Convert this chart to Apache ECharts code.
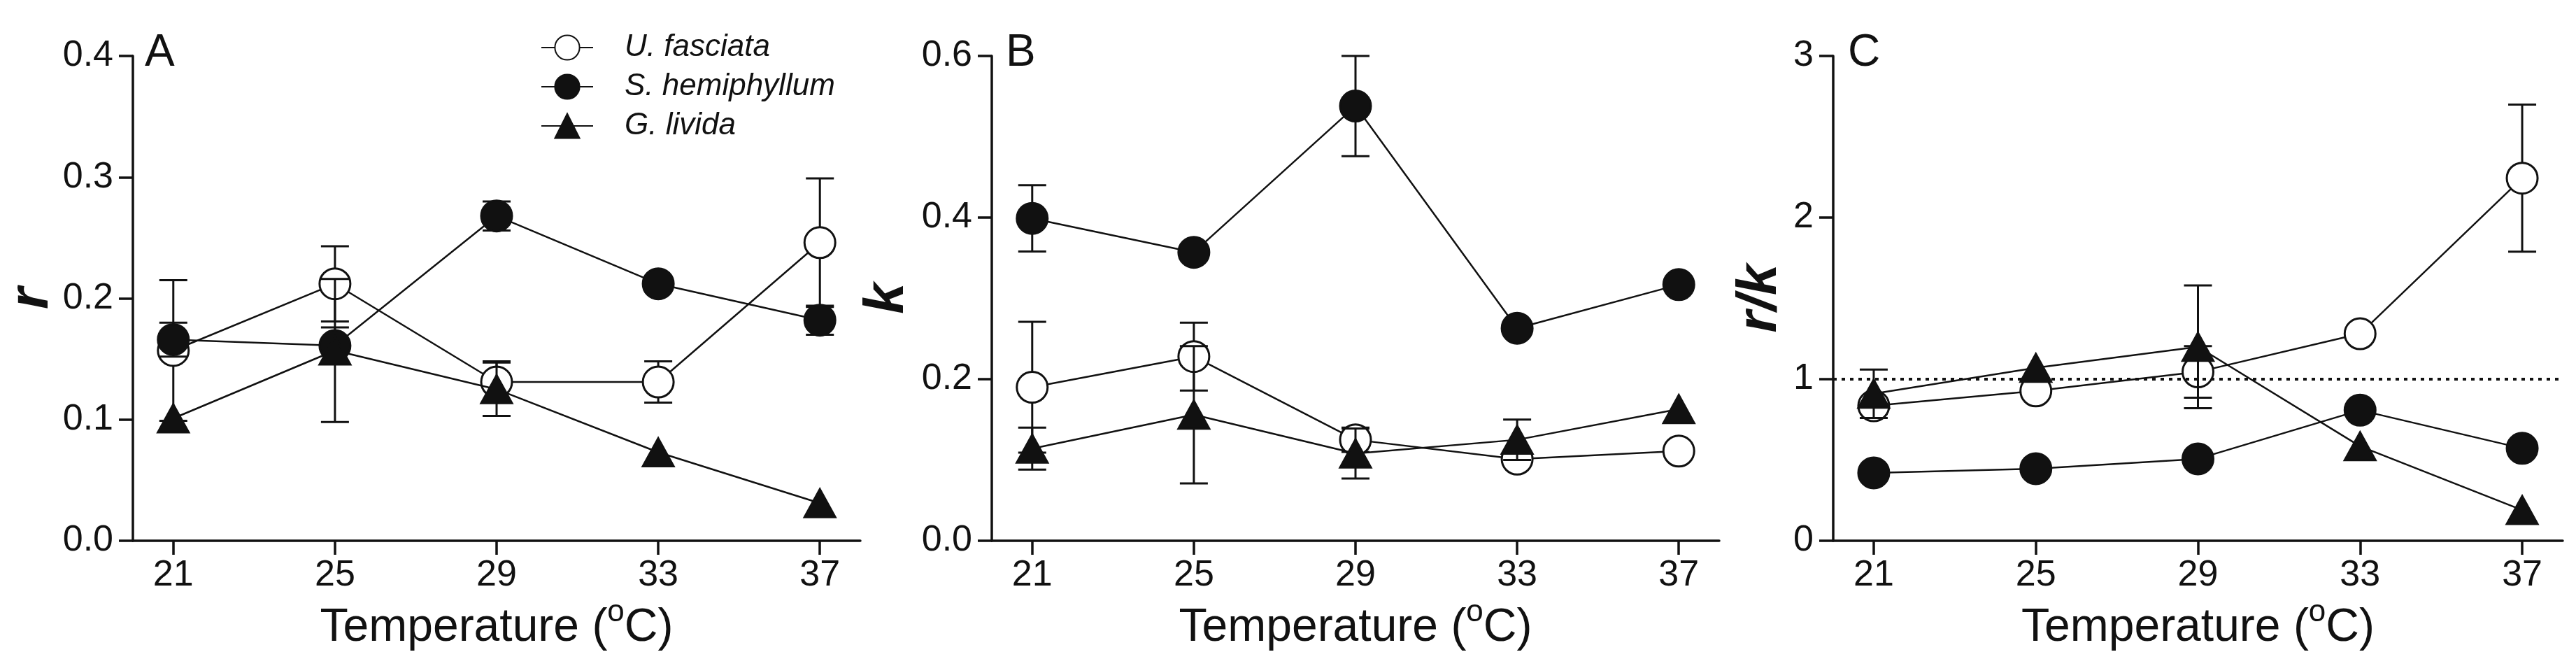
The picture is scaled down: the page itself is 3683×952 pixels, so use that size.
<!DOCTYPE html>
<html>
<head>
<meta charset="utf-8">
<script src="https://cdn.jsdelivr.net/npm/echarts@6/dist/echarts.min.js"></script>
<style>
  html, body { margin: 0; padding: 0; background: #fff; }
  #chart { width: 3683px; height: 952px; }
</style>
</head>
<body>
<div id="chart"></div>
<script>
// temperatures (x axis)
const temps = [21, 25, 29, 33, 37];

// panel A: r
const rFasciata = [0.157, 0.212, 0.131, 0.131, 0.246];
const rFasciataErr = [0.058, 0.031, 0.017, 0.017, 0.053];
const rHemiphyllum = [0.166, 0.161, 0.268, 0.212, 0.182];
const rHemiphyllumErr = [0.014, 0.015, 0.012, 0, 0.012];
const rLivida = [0.101, 0.157, 0.125, 0.073, 0.031];
const rLividaErr = [0, 0.059, 0.022, 0, 0];

// panel B: k
const kFasciata = [0.190, 0.228, 0.125, 0.101, 0.111];
const kFasciataErr = [0.081, 0.042, 0.015, 0, 0];
const kHemiphyllum = [0.399, 0.357, 0.538, 0.263, 0.317];
const kHemiphyllumErr = [0.041, 0, 0.062, 0, 0];
const kLivida = [0.114, 0.156, 0.108, 0.125, 0.163];
const kLividaErr = [0.026, 0.085, 0.031, 0.025, 0];

// panel C: r/k
const rkFasciata = [0.835, 0.927, 1.045, 1.281, 2.244];
const rkFasciataErr = [0.05, 0, 0.16, 0, 0.455];
const rkHemiphyllum = [0.42, 0.446, 0.507, 0.808, 0.572];
const rkHemiphyllumErr = [0, 0, 0, 0, 0];
const rkLivida = [0.91, 1.07, 1.2, 0.585, 0.19];
const rkLividaErr = [0.15, 0, 0.38, 0, 0];

const speciesNames = ['U. fasciata', 'S. hemiphyllum', 'G. livida'];
const FONT = '"Liberation Sans", Arial, sans-serif';
const INK = '#111';

// 物种的标记样式
const markers = [
    { symbol: 'circle', size: 44, fill: '#fff' },
    { symbol: 'circle', size: 44, fill: INK },
    { symbol: 'triangle', size: [44, 40], fill: INK }
];

const panels = [
    { letter: 'A', yName: 'r', left: 190, width: 1040, max: 0.4, step: 0.1, digits: 1, nameGap: 143,
      means: [rFasciata, rHemiphyllum, rLivida], errs: [rFasciataErr, rHemiphyllumErr, rLividaErr] },
    { letter: 'B', yName: 'k', left: 1418, width: 1040, max: 0.6, step: 0.2, digits: 1, nameGap: 149,
      means: [kFasciata, kHemiphyllum, kLivida], errs: [kFasciataErr, kHemiphyllumErr, kLividaErr] },
    { letter: 'C', yName: 'r/k', left: 2621, width: 1043, max: 3, step: 1, digits: 0, nameGap: 104,
      means: [rkFasciata, rkHemiphyllum, rkLivida], errs: [rkFasciataErr, rkHemiphyllumErr, rkLividaErr] }
];

const grids = [], xAxes = [], yAxes = [], series = [], graphics = [];

panels.forEach((p, gi) => {
    grids.push({ left: p.left, top: 80, width: p.width, height: 693, containLabel: false });

    xAxes.push({
        gridIndex: gi, type: 'value', min: 20, max: 38,
        name: 'Temperature ({sup|o}C)', nameLocation: 'middle', nameGap: 122,
        nameTextStyle: {
            fontFamily: FONT, fontSize: 66, color: INK, verticalAlign: 'middle',
            rich: { sup: { fontFamily: FONT, fontSize: 44, color: INK, padding: [0, 0, 44, 0] } }
        },
        axisLine: { lineStyle: { color: INK, width: 3.5 } },
        axisTick: { length: 20, lineStyle: { color: INK, width: 3.5 }, customValues: temps },
        axisLabel: { customValues: temps, fontFamily: FONT, fontSize: 52, color: INK, margin: 24 },
        splitLine: { show: false }
    });

    yAxes.push({
        gridIndex: gi, type: 'value', min: 0, max: p.max, interval: p.step,
        name: p.yName, nameLocation: 'middle', nameGap: p.nameGap,
        nameTextStyle: { fontFamily: FONT, fontSize: 80, fontWeight: 'bold', fontStyle: 'italic',
            color: INK, verticalAlign: 'middle' },
        axisLine: { show: true, lineStyle: { color: INK, width: 3.5 } },
        axisTick: { show: true, length: 20, lineStyle: { color: INK, width: 3.5 } },
        axisLabel: { fontFamily: FONT, fontSize: 52, color: INK, margin: 28,
            formatter: v => v.toFixed(p.digits) },
        splitLine: { show: false }
    });

    // 误差线 + 折线，按物种顺序叠放
    speciesNames.forEach((name, si) => {
        const m = p.means[si], e = p.errs[si];
        series.push({
            type: 'custom',
            name: 'err-' + gi + '-' + si,
            xAxisIndex: gi, yAxisIndex: gi,
            z: 2 + si * 2,
            silent: true,
            encode: { x: 0, y: [1, 2] },
            data: temps.map((t, i) => [t, m[i] - e[i], m[i] + e[i]]),
            renderItem: function (params, api) {
                if (api.value(2) <= api.value(1)) return null;
                const x = api.value(0);
                const lo = api.coord([x, api.value(1)]);
                const hi = api.coord([x, api.value(2)]);
                const w = 20;
                const style = { stroke: INK, lineWidth: 3 };
                return {
                    type: 'group',
                    children: [
                        { type: 'line', shape: { x1: lo[0], y1: lo[1], x2: hi[0], y2: hi[1] }, style: style },
                        { type: 'line', shape: { x1: hi[0] - w, y1: hi[1], x2: hi[0] + w, y2: hi[1] }, style: style },
                        { type: 'line', shape: { x1: lo[0] - w, y1: lo[1], x2: lo[0] + w, y2: lo[1] }, style: style }
                    ]
                };
            }
        });

        const s = {
            type: 'line',
            name: name,
            xAxisIndex: gi, yAxisIndex: gi,
            z: 3 + si * 2,
            data: temps.map((t, i) => [t, m[i]]),
            symbol: markers[si].symbol,
            symbolSize: markers[si].size,
            showSymbol: true,
            lineStyle: { color: INK, width: 2.5 },
            itemStyle: { color: markers[si].fill, borderColor: INK, borderWidth: 3 },
            emphasis: { disabled: true }
        };
        if (gi === 2 && si === 0) {
            s.markLine = {
                silent: true, symbol: ['none', 'none'], label: { show: false },
                lineStyle: { color: INK, width: 4, type: [5, 7] },
                data: [{ yAxis: 1 }]
            };
        }
        series.push(s);
    });

    graphics.push({
        type: 'text', left: [207, 1438, 2642][gi], top: 44,
        style: { text: p.letter, fontFamily: FONT, fontSize: 64, fill: INK }
    });
});

const chart = echarts.init(document.getElementById('chart'));
chart.setOption({
    animation: false,
    backgroundColor: '#fff',
    grid: grids,
    xAxis: xAxes,
    yAxis: yAxes,
    legend: {
        data: speciesNames,
        orient: 'vertical',
        left: 768, top: 41,
        itemWidth: 74, itemHeight: 44, itemGap: 12,
        selectedMode: false,
        textStyle: { fontFamily: FONT, fontSize: 44, fontStyle: 'italic', color: INK, padding: [0, 0, 0, 40] }
    },
    graphic: graphics,
    series: series
});
</script>
</body>
</html>
